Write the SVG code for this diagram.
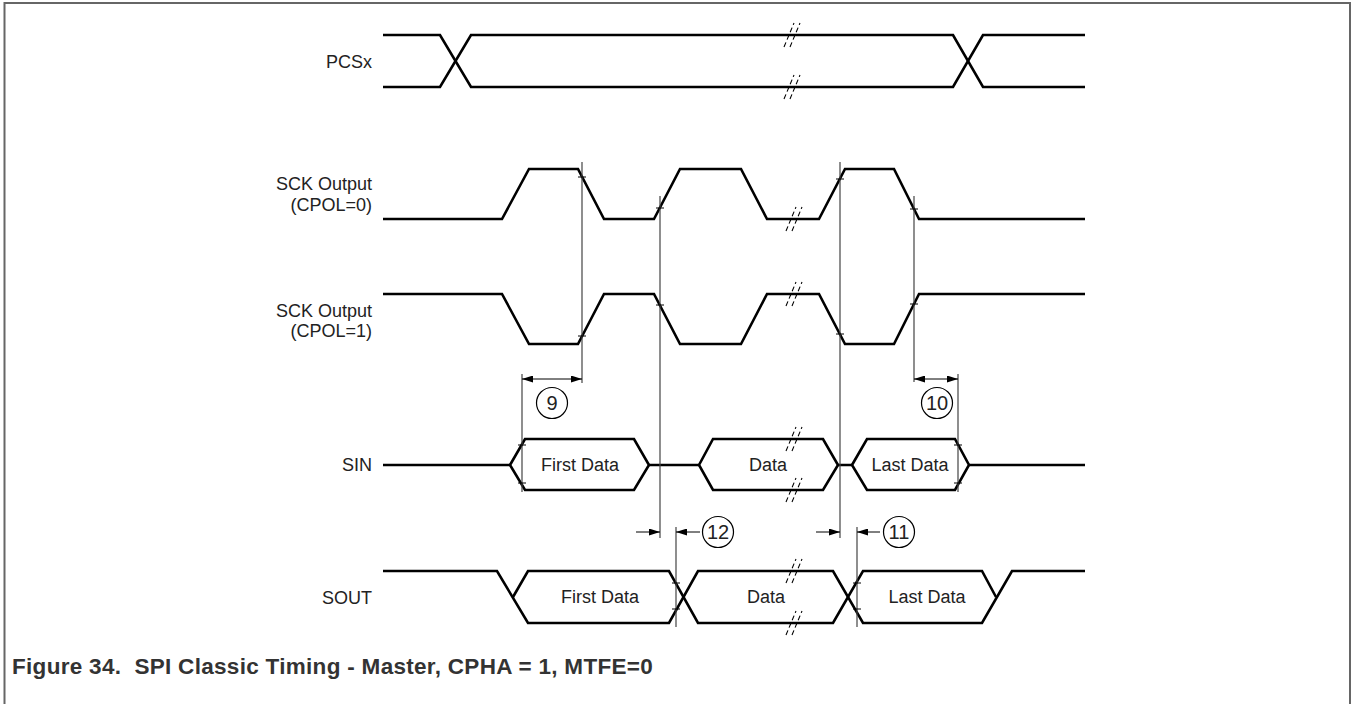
<svg xmlns="http://www.w3.org/2000/svg" width="1354" height="704" viewBox="0 0 1354 704">
<style>
.sig{fill:none;stroke:#000;stroke-width:2.6;stroke-linejoin:miter}
.lbl{font-family:"Liberation Sans",Arial,sans-serif;font-size:18px;fill:#222}
.num{font-family:"Liberation Sans",Arial,sans-serif;font-size:20px;fill:#222;text-anchor:middle}
.mid{text-anchor:middle}
.end{text-anchor:end}
.vl{stroke:#444;stroke-width:1.2;fill:none}
.tk{stroke:#000;stroke-width:1;fill:none}
.dim{stroke:#000;stroke-width:1;fill:none;marker-end:url(#ah)}
.dim2{stroke:#000;stroke-width:1;fill:none;marker-end:url(#ah);marker-start:url(#ah)}
.circ{fill:#fff;stroke:#000;stroke-width:1.2}
.cap{font-family:"Liberation Sans",Arial,sans-serif;font-size:22.5px;font-weight:bold;fill:#333;letter-spacing:0.3px;white-space:pre}
</style>
<defs>
<marker id="ah" viewBox="0 0 11 7" refX="11" refY="3.5" markerWidth="11" markerHeight="7" markerUnits="userSpaceOnUse" orient="auto-start-reverse"><path d="M0,0 L11,3.5 L0,7 Z" fill="#000"/></marker>
<g id="brk">
<line x1="-9" y1="12" x2="1" y2="-12" stroke="#000" stroke-width="1.1" stroke-dasharray="5 3"/>
<line x1="-3" y1="12" x2="7" y2="-12" stroke="#000" stroke-width="1.1" stroke-dasharray="5 3"/>
</g>
</defs>
<rect width="1354" height="704" fill="#fff"/>
<path d="M4.5,704 V3 H1350 V704" fill="none" stroke="#666" stroke-width="2"/>

<g id="pcsx">
<text class="lbl end" x="372" y="68">PCSx</text>
<path class="sig" d="M383,35 H440 L471,87 H953 L983,35 H1085"/>
<path class="sig" d="M383,87 H440 L471,35 H953 L983,87 H1085"/>
<use href="#brk" x="793" y="35"/>
<use href="#brk" x="793" y="87"/>
</g>

<g id="sck0">
<text class="lbl end" x="372" y="190">SCK Output</text>
<text class="lbl end" x="372" y="210.5">(CPOL=0)</text>
<path class="sig" d="M383,219 H502 L529,169 H578 L604,219 H654 L680,169 H741 L767,219 H819 L845,169 H894 L919,219 H1085"/>
<use href="#brk" x="795" y="219"/>
</g>

<g id="sck1">
<text class="lbl end" x="372" y="316.5">SCK Output</text>
<text class="lbl end" x="372" y="337">(CPOL=1)</text>
<path class="sig" d="M383,294 H502 L529,344 H578 L604,294 H654 L680,344 H741 L767,294 H819 L845,344 H894 L919,294 H1085"/>
<use href="#brk" x="795" y="294"/>
</g>

<g id="sin">
<text class="lbl end" x="372" y="471">SIN</text>
<path class="sig" d="M383,465 H510 M649,465 H699 M838,465 H852 M969,465 H1085"/>
<path class="sig" d="M510,465 L525,439 H634 L649,465 L634,490 H525 Z"/>
<path class="sig" d="M699,465 L713,439 H823 L838,465 L823,490 H713 Z"/>
<path class="sig" d="M852,465 L867,439 H955 L969,465 L955,490 H867 Z"/>
<text class="lbl mid" x="580" y="471">First Data</text>
<text class="lbl mid" x="768" y="471">Data</text>
<text class="lbl mid" x="910" y="471">Last Data</text>
<use href="#brk" x="795" y="439"/>
<use href="#brk" x="795" y="490"/>
</g>

<g id="sout">
<text class="lbl end" x="372" y="604">SOUT</text>
<path class="sig" d="M383,571 H497 L528,623 H669 L698,571 H833 L863,623 H982 L1012,571 H1085"/>
<path class="sig" d="M513,597 L528,571 H669 L698,623 H833 L863,571 H982 L996,597"/>
<text class="lbl mid" x="600" y="603">First Data</text>
<text class="lbl mid" x="766" y="603">Data</text>
<text class="lbl mid" x="927" y="603">Last Data</text>
<use href="#brk" x="795" y="571"/>
<use href="#brk" x="795" y="623"/>
</g>

<g id="connectors">
<line class="vl" x1="582" y1="162" x2="582" y2="383"/>
<line class="vl" x1="660" y1="196" x2="660" y2="538"/>
<line class="vl" x1="840" y1="162" x2="840" y2="538"/>
<line class="vl" x1="914" y1="196" x2="914" y2="382"/>
<line class="vl" x1="522" y1="374" x2="522" y2="492"/>
<line class="vl" x1="958" y1="374" x2="958" y2="492"/>
<line class="vl" x1="676" y1="527" x2="676" y2="627"/>
<line class="vl" x1="857" y1="527" x2="857" y2="627"/>
<path class="tk" d="M578,177 h8 M578,336 h8 M656,208 h8 M656,305 h8 M836,179 h8 M836,334 h8 M910,209 h8 M910,304 h8 M518,445 h8 M518,483 h8 M954,445 h8 M954,483 h8 M672,583 h8 M672,609 h8 M853,583 h8 M853,609 h8"/>
<line class="dim2" x1="522" y1="379" x2="582" y2="379"/>
<line class="dim2" x1="914" y1="379" x2="958" y2="379"/>
<line class="dim" x1="636" y1="532" x2="660" y2="532"/>
<line class="dim" x1="700" y1="532" x2="676" y2="532"/>
<line class="dim" x1="816" y1="532" x2="840" y2="532"/>
<line class="dim" x1="880" y1="532" x2="857" y2="532"/>
</g>

<g id="c9"><circle class="circ" cx="552" cy="403" r="15.5"/><text class="num" x="552" y="410">9</text></g>
<g id="c10"><circle class="circ" cx="937" cy="403" r="15.5"/><text class="num" x="937" y="410">10</text></g>
<g id="c12"><circle class="circ" cx="718" cy="532" r="15.5"/><text class="num" x="718" y="539">12</text></g>
<g id="c11"><circle class="circ" cx="899" cy="532" r="15.5"/><text class="num" x="899" y="539">11</text></g>

<text class="cap" x="12" y="674" xml:space="preserve">Figure 34.  SPI Classic Timing - Master, CPHA = 1, MTFE=0</text>
</svg>
